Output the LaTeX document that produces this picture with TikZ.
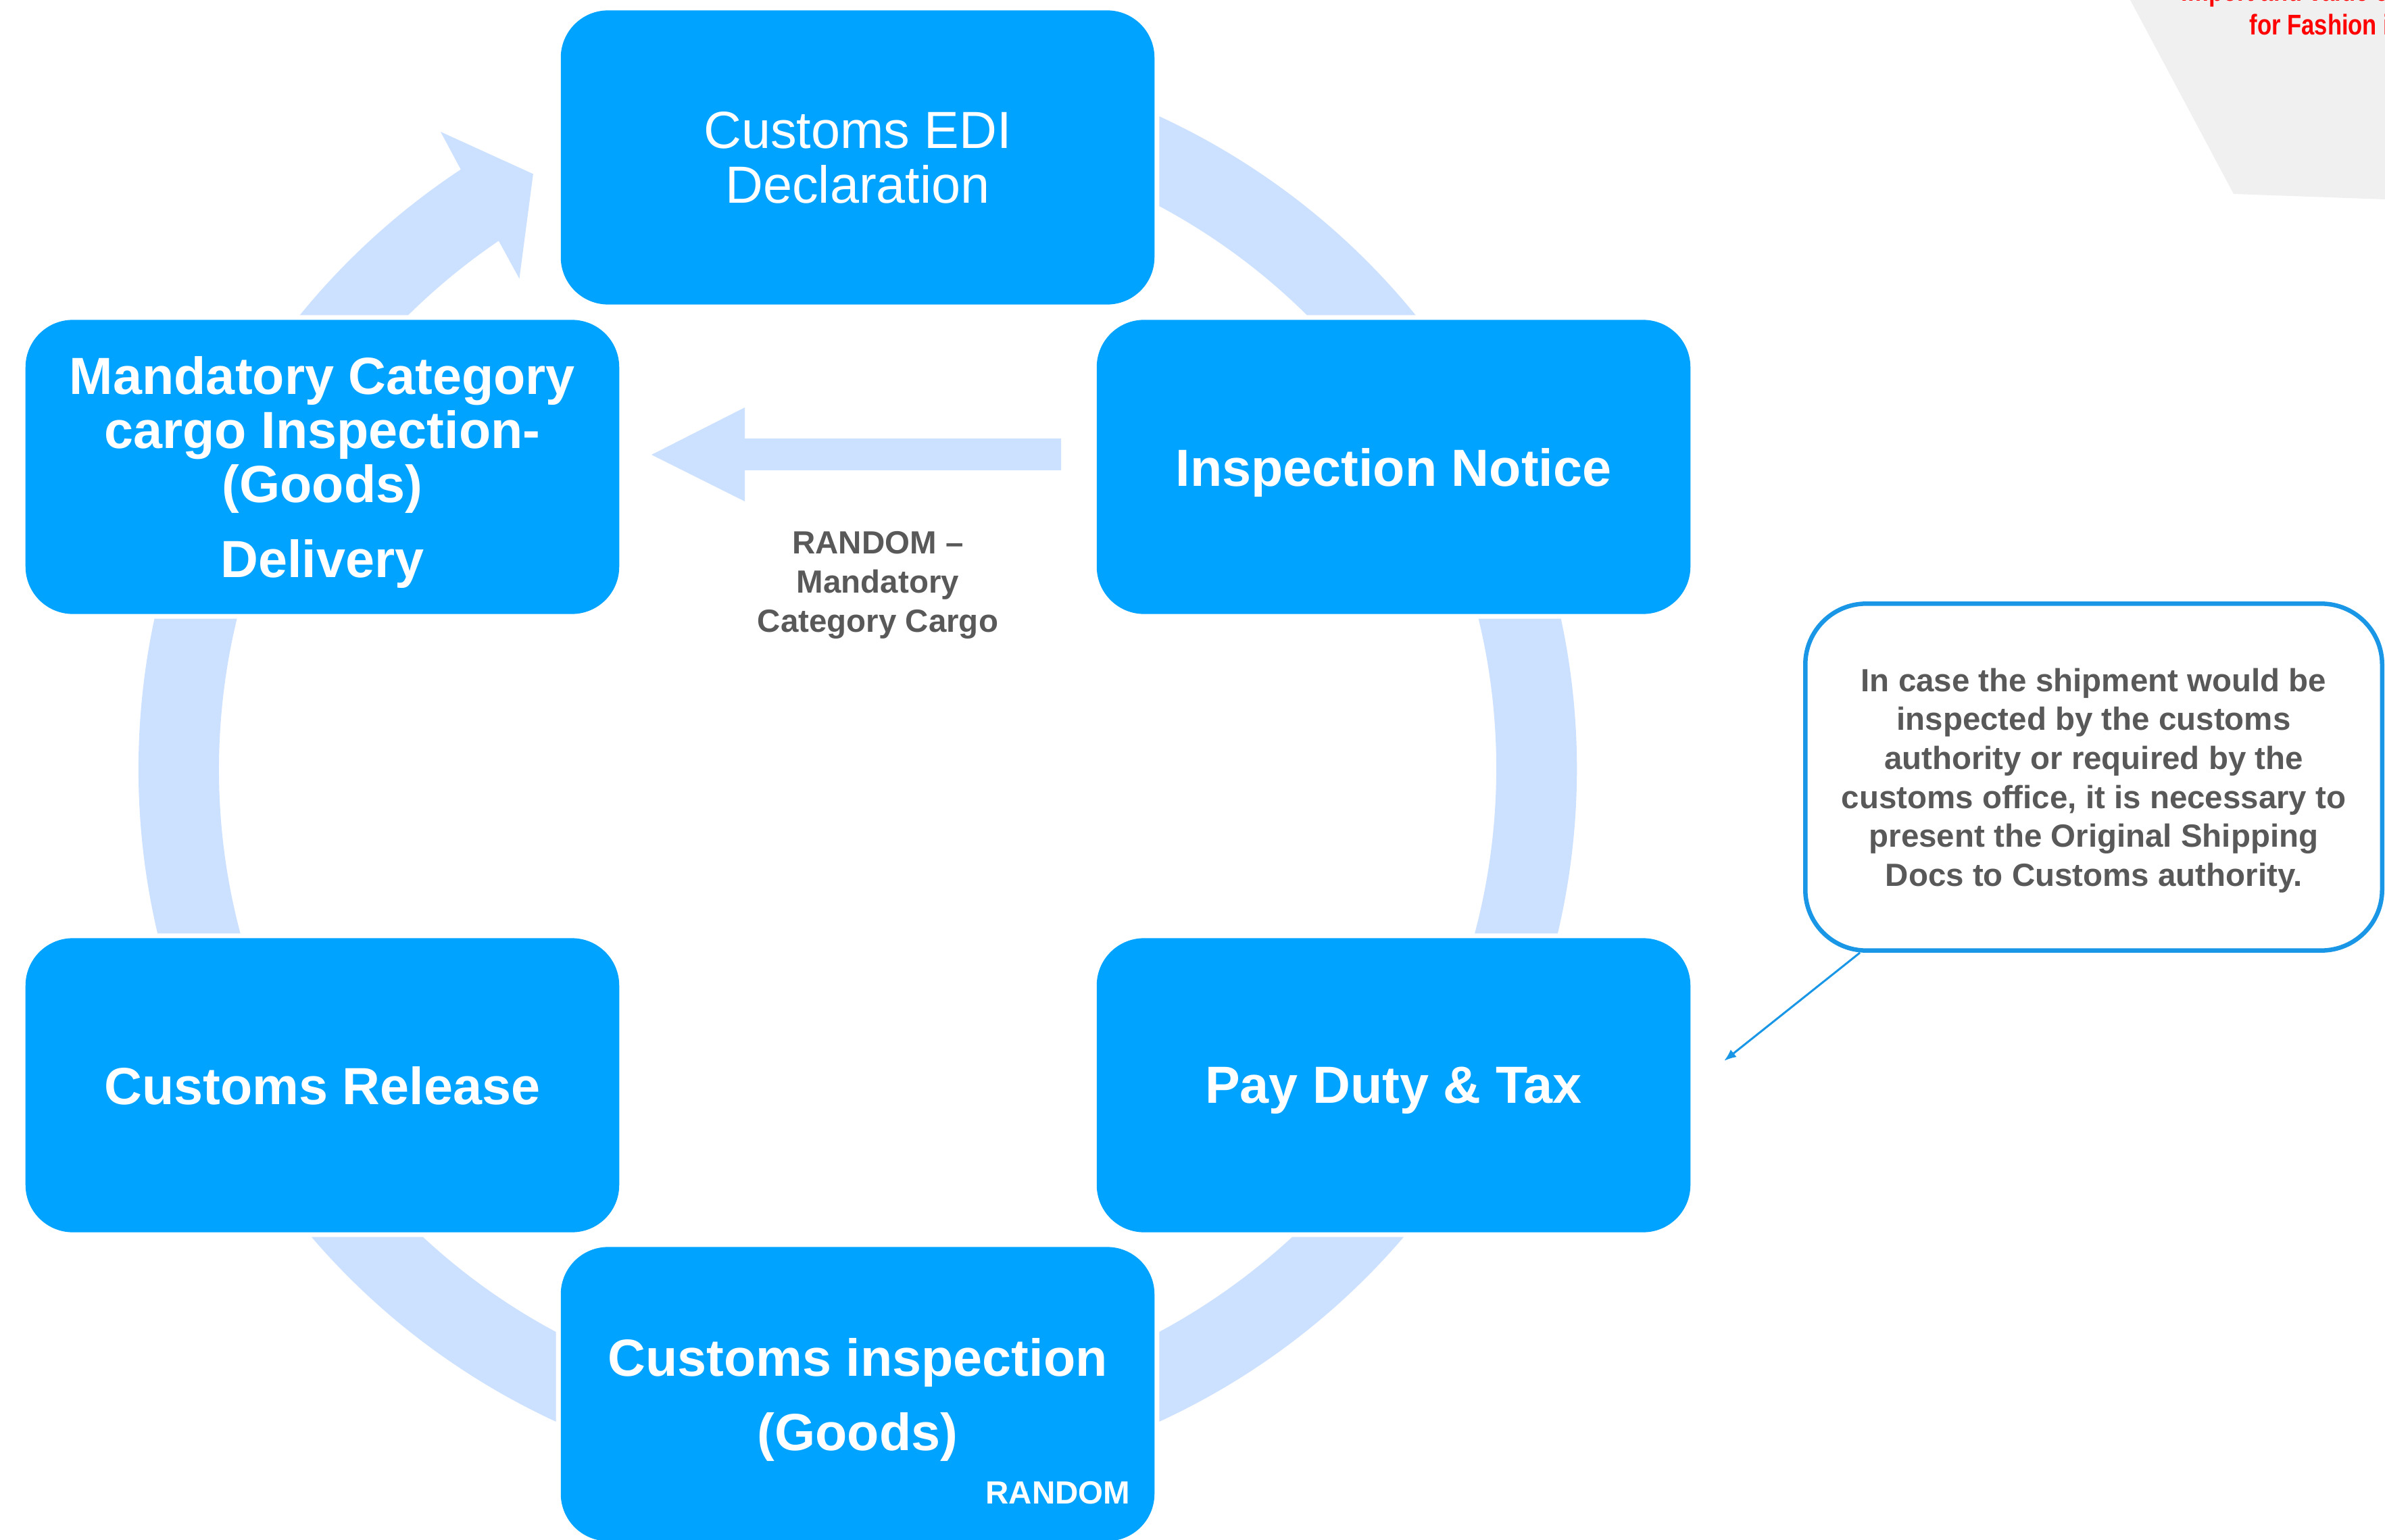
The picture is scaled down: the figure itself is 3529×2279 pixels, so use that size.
\documentclass[tikz,border=0pt]{standalone}
\usepackage{fontspec}
\setmainfont{Liberation Sans}
\newfontfamily\narrowsans[FakeStretch=0.82]{Liberation Sans}
\usetikzlibrary{arrows.meta}

\definecolor{boxblue}{RGB}{0,163,255}
\definecolor{ringblue}{RGB}{204,224,255}
\definecolor{lineblue}{RGB}{25,150,230}
\definecolor{notegray}{RGB}{89,89,89}
\definecolor{cornergray}{RGB}{240,240,240}

\tikzset{
  stage/.style={fill=boxblue, text=white, rounded corners=0.7cm,
    minimum width=8.78cm, minimum height=4.35cm, inner sep=0pt, align=center,
    text depth=0pt, font=\bfseries\fontsize{22}{22.8}\selectfont,
    preaction={draw=white, line width=0.14cm}},
  remark/.style={text=notegray, align=center,
    font=\bfseries\fontsize{13.5}{16.4}\selectfont},
  pointer/.style={draw=lineblue, line width=0.03cm,
    -{Latex[length=0.18cm, width=0.14cm]}}
}

\begin{document}
\begin{tikzpicture}[x=0.01cm, y=-0.01cm]
		\useasboundingbox (0,0) rectangle (3529,2279);
		
		% Corner banner
		\fill[cornergray] (3152,0) -- (3305,287) -- (3529,295) -- (3529,0) -- cycle;
		\node[anchor=base west, text=red, inner sep=0pt,
			font=\narrowsans\bfseries\fontsize{12}{14}\selectfont] (banner top) at (3227,2) {Import and value chain};
		\node[anchor=base west, text=red, inner sep=0pt,
			font=\narrowsans\bfseries\fontsize{12}{14}\selectfont] (banner bottom) at (3328,52) {for Fashion industry};
		
		% Ring with its arrow head
		\begin{scope}[shift={(1269,1138)}, yscale=-1]
			\fill[ringblue] (112:1064) arc[start angle=112, end angle=-236.5, radius=1064]
				-- (123.2:1127) -- (118.6:1003) -- (124.6:881.5) -- (124.2:945)
				arc[start angle=-235.8, end angle=112, radius=945] -- cycle;
		\end{scope}
		
		% Stages
		\node[stage, font=\fontsize{22}{22.8}\selectfont] (edi) at (1269,233) {Customs EDI\\Declaration};
		\node[stage] (mandatory) at (477,691) {Mandatory Category\\cargo Inspection-\\(Goods)\\[8.8pt]Delivery};
		\node[stage] (notice) at (2062,691) {Inspection Notice};
		\node[stage] (release) at (477,1606) {Customs Release};
		\node[stage] (duty) at (2062,1606) {Pay Duty \& Tax};
		\node[stage] (goods) at (1269,2063) {Customs inspection\\[8.5pt](Goods)};
		\node[anchor=base east, text=white, inner sep=0pt,
			font=\bfseries\fontsize{13.5}{16}\selectfont] (random) at (1673,2225) {RANDOM};
		
		% Shortcut arrow
		\fill[ringblue] (1570,649) -- (1102,649) -- (1102,603) -- (964,673)
			-- (1102,742) -- (1102,696) -- (1570,696) -- cycle;
		\node[remark] (shortcut) at (1299,866) {RANDOM --\\Mandatory\\Category Cargo};
		
		% Callout
		\node[remark, draw=lineblue, line width=0.065cm, fill=white, rounded corners=0.9cm,
			minimum width=8.53cm, minimum height=5.13cm, inner sep=0pt, text depth=0pt] (note) at (3098,1150)
			{In case the shipment would be\\inspected by the customs\\authority or required by the\\customs office, it is necessary to\\present the Original Shipping\\Docs to Customs authority.};
		\coordinate (duty tip) at (2551,1570);
		\draw[pointer] ([xshift=0.84cm]note.south west) -- (duty tip);
\end{tikzpicture}
\end{document}
